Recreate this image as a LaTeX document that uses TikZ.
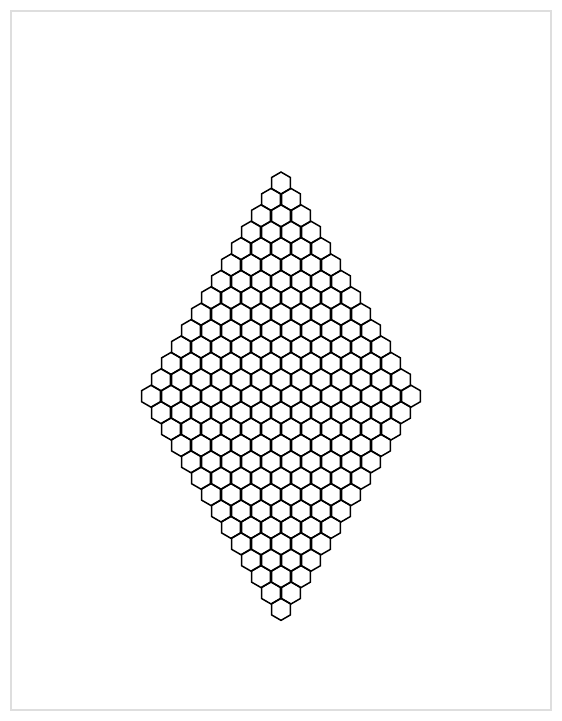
\documentclass[tikz,border=0pt]{standalone}
\begin{document}
\begin{tikzpicture}[x=1pt,y=-1pt,
  hexa/.style={draw=black,line width=1.5pt,line join=miter},
  frame/.style={draw=black!13,line width=1.2pt}]
\useasboundingbox (0,0) rectangle (562,721);
\draw[frame] (11,11) rectangle (551,710);
\def\r{10.95}
\foreach \i in {0,...,26}{
  \pgfmathtruncatemacro\n{14-abs(13-\i)}
  \foreach \j in {1,...,\n}{
    \pgfmathsetmacro\cx{281+20*(\j-1-(\n-1)/2)}
    \pgfmathsetmacro\cy{183+16.4*\i}
    \draw[hexa] (\cx,\cy) +(90:\r) -- +(30:\r) -- +(-30:\r) -- +(-90:\r) -- +(-150:\r) -- +(150:\r) -- cycle;
  }
}
\end{tikzpicture}
\end{document}
